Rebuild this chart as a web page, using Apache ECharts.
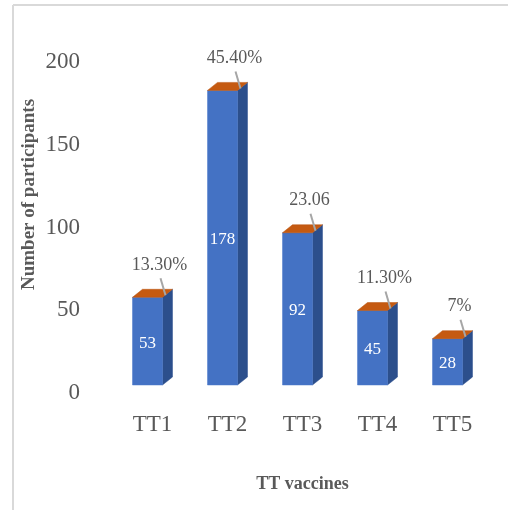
<!DOCTYPE html>
<html>
<head>
<meta charset="utf-8">
<script src="https://cdn.jsdelivr.net/npm/echarts@6/dist/echarts.min.js"></script>
<style>html,body{margin:0;padding:0;background:#fff;}#c{width:508px;height:510px;}</style>
</head>
<body>
<div id="c"></div>
<script>
var categories = ['TT1', 'TT2', 'TT3', 'TT4', 'TT5'];
var participants = [53, 178, 92, 45, 28];
var percentLabels = ['13.30%', '45.40%', '23.06', '11.30%', '7%'];
var yTicks = [0, 50, 100, 150, 200];

var chart = echarts.init(document.getElementById('c'));
var SERIF = '"Liberation Serif", "Times New Roman", serif';
var GRAY = '#595959';

function renderBar(params, api) {
  var idx = api.value(0);
  var val = api.value(1);
  var top = api.coord([idx, val]);
  var base = api.coord([idx, 0]);
  var band = api.size([1, 0])[0];
  var w = band * 0.4;         // front width
  var dx = band * 0.1333;     // depth x
  var dy = 8;                 // depth y
  var x = top[0];
  var xl = x - 20 * band / 75;
  var xr = xl + w;
  var yt = top[1], yb = base[1];
  return {
    type: 'group',
    children: [
      { type: 'polygon', shape: { points: [[xr, yt], [xr + dx, yt - dy], [xr + dx, yb - dy], [xr, yb]] },
        style: { fill: '#2C4F8C', stroke: '#2C4F8C', lineWidth: 0.5 } },
      { type: 'rect', shape: { x: xl, y: yt, width: w, height: yb - yt },
        style: { fill: '#4472C4', stroke: '#4A78CA', lineWidth: 0.5 } },
      { type: 'polygon', shape: { points: [[xl, yt], [xr, yt], [xr + dx, yt - dy], [xl + dx, yt - dy]] },
        style: { fill: '#C55A11', stroke: '#B9530F', lineWidth: 0.5 } },
      { type: 'text', x: (xl + xr) / 2, y: (yt + yb) / 2 + 2,
        style: { text: String(val), fill: '#ffffff', font: '17px ' + SERIF, align: 'center', verticalAlign: 'middle' } },
      { type: 'line', shape: { x1: x + 8, y1: yt - 19, x2: x + 13, y2: yt - 2 },
        style: { stroke: '#A6A6A6', lineWidth: 2 } },
      { type: 'text', x: x + 7, y: yt - 32,
        style: { text: percentLabels[idx], fill: GRAY, font: '18px ' + SERIF, align: 'center', verticalAlign: 'middle' } }
    ]
  };
}

chart.setOption({
  animation: false,
  backgroundColor: '#ffffff',
  grid: [
    { left: 115, right: 18, top: 54, bottom: 125 },
    { left: 115, right: 18, top: 62, bottom: 117 }
  ],
  xAxis: [{
    type: 'category',
    gridIndex: 0,
    data: categories,
    axisLine: { show: false },
    axisTick: { show: false },
    axisLabel: { color: GRAY, fontFamily: SERIF, fontSize: 23, margin: 28 },
    name: 'TT vaccines',
    nameLocation: 'middle',
    nameGap: 90,
    nameTextStyle: { color: GRAY, fontFamily: SERIF, fontSize: 18, fontWeight: 'bold' }
  }, {
    type: 'category',
    gridIndex: 1,
    data: categories,
    show: false
  }],
  yAxis: [{
    type: 'value',
    gridIndex: 0,
    min: yTicks[0],
    max: yTicks[yTicks.length - 1],
    interval: yTicks[1] - yTicks[0],
    splitLine: { show: false },
    axisLine: { show: false },
    axisTick: { show: false },
    axisLabel: { show: false },
    name: 'Number of participants',
    nameLocation: 'middle',
    nameGap: 76,
    nameRotate: 90,
    nameTextStyle: { color: GRAY, fontFamily: SERIF, fontSize: 19, fontWeight: 'bold', padding: [0, 0, 0, 50] }
  }, {
    type: 'value',
    gridIndex: 1,
    min: yTicks[0],
    max: yTicks[yTicks.length - 1],
    interval: yTicks[1] - yTicks[0],
    splitLine: { show: false },
    axisLine: { show: false },
    axisTick: { show: false },
    axisLabel: { color: GRAY, fontFamily: SERIF, fontSize: 23, margin: 35 }
  }],
  graphic: [
    { type: 'line', shape: { x1: 13, y1: 5, x2: 508, y2: 5 }, style: { stroke: '#D9D9D9', lineWidth: 2 } },
    { type: 'line', shape: { x1: 13, y1: 5, x2: 13, y2: 510 }, style: { stroke: '#D9D9D9', lineWidth: 2 } }
  ],
  series: [{
    type: 'custom',
    xAxisIndex: 0,
    yAxisIndex: 0,
    renderItem: renderBar,
    data: participants.map(function (v, i) { return [i, v]; }),
    encode: { x: 0, y: 1 },
    clip: false
  }]
});
</script>
</body>
</html>
